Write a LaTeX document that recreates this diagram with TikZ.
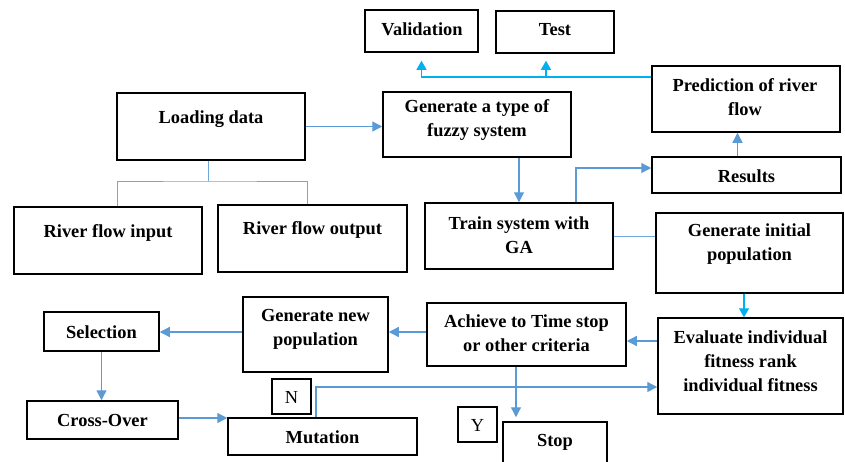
\documentclass[tikz,border=0pt]{standalone}
\usepackage{fontspec}
\setmainfont{Liberation Serif}
\usetikzlibrary{arrows.meta}
\definecolor{ab}{HTML}{5B9BD5}
\definecolor{cy}{HTML}{00B0F0}
\definecolor{lb}{HTML}{6FA8DC}
\begin{document}
\begin{tikzpicture}[x=1pt,y=-1pt,
  box/.style={draw=black,line width=1.5pt,inner sep=0pt},
  txt/.style={font=\fontsize{18.4}{24}\selectfont\bfseries,align=center,inner sep=0pt},
  ntxt/.style={font=\fontsize{18.4}{24}\selectfont,inner sep=0pt},
  arr/.style={draw=ab,line width=1.3pt,-{Triangle[width=10pt,length=10pt]}},
  carr/.style={draw=cy,line width=1.3pt,-{Triangle[width=10pt,length=9pt]}},
  tline/.style={draw=lb,line width=1pt}]
\useasboundingbox (0,0) rectangle (845,461);
% boxes
\node[box,minimum width=113,minimum height=42] (val) at (421.5,31) {};
\node[box,minimum width=118,minimum height=42] (test) at (555,32) {};
\node[box,minimum width=188,minimum height=66] (pred) at (746,99) {};
\node[box,minimum width=188,minimum height=65] (gf) at (477,124.5) {};
\node[box,minimum width=188,minimum height=67] (ld) at (211,126.5) {};
\node[box,minimum width=188,minimum height=67] (rfi) at (108,240.5) {};
\node[box,minimum width=189,minimum height=67] (rfo) at (312.5,238.5) {};
\node[box,minimum width=188,minimum height=66] (tr) at (519,236) {};
\node[box,minimum width=189,minimum height=36] (res) at (746.5,175) {};
\node[box,minimum width=187,minimum height=80] (gi) at (749.5,253) {};
\node[box,minimum width=185,minimum height=96] (ev) at (750.5,366) {};
\node[box,minimum width=199,minimum height=63] (ac) at (526.5,334.5) {};
\node[box,minimum width=104,minimum height=58] (st) at (555,451) {};
\node[box,minimum width=39,minimum height=35] (yb) at (477.5,424.5) {};
\node[box,minimum width=39,minimum height=35] (nb) at (291.5,396.5) {};
\node[box,minimum width=189,minimum height=37] (mu) at (322.5,436.5) {};
\node[box,minimum width=151,minimum height=38] (co) at (102.5,420) {};
\node[box,minimum width=115,minimum height=39] (sel) at (101.5,331.5) {};
\node[box,minimum width=145,minimum height=75] (gn) at (315.5,334.5) {};
% texts
\node[txt] (valt) at (422,29) {Validation};
\node[txt] (testt) at (555,30) {Test};
\node[txt] (predt) at (745,97) {Prediction of river\\flow};
\node[txt] (gft) at (477,120.5) {Generate a type of\\fuzzy system};
\node[txt] (ldt) at (211,119) {Loading data};
\node[txt] (rfit) at (108,233) {River flow input};
\node[txt] (rfot) at (312.5,230) {River flow output};
\node[txt] (trt) at (519,235) {Train system with\\GA};
\node[txt] (rest) at (746.5,176) {Results};
\node[txt] (git) at (749.5,244) {Generate initial\\population};
\node[txt] (evt) at (750.5,361) {Evaluate individual\\fitness rank\\individual fitness};
\node[txt] (act) at (526.5,333.5) {Achieve to Time stop\\or other criteria};
\node[txt] (gnt) at (315.5,329) {Generate new\\population};
\node[txt] (selt) at (101.5,332) {Selection};
\node[txt] (cot) at (102.5,420) {Cross-Over};
\node[txt] (mut) at (322.5,437) {Mutation};
\node[txt] (stt) at (555,442) {Stop};
\node[ntxt] (nt) at (291.5,397) {N};
\node[ntxt] (yt) at (477.5,425) {Y};
% connectors
\coordinate (j) at (208,181);
\draw[tline] (ld.south -| j) -- (j);
\draw[tline] ([xshift=9]rfi.north) |- (j) -| ([xshift=-5.5]rfo.north);
\draw[arr] (ld.east) -- (gf.west |- ld.east);
\draw[arr] (tr.north |- gf.south) -- (tr.north);
\draw[arr] ([xshift=57]tr.north) |- ([yshift=7]res.west);
\draw[arr] ([xshift=-9]res.north) -- ([xshift=-9]res.north |- pred.south);
\coordinate (pv) at ([yshift=22]pred.west);
\draw[carr] (pv) -| ([yshift=-8]val.south);
\draw[carr] ([xshift=-9]test.south |- pv) -- ([xshift=-9,yshift=-7]test.south);
\draw[tline] (tr.east) -- (gi.west |- tr.east);
\draw[carr] ([xshift=-5.5]gi.south) -- ([xshift=-5.5]gi.south |- ev.north);
\draw[arr] ([yshift=25]ev.west) -- (ac.east |- 0,341);
\draw[arr] ([xshift=-10.5]ac.south) -- ([xshift=-10.5,yshift=4]ac.south |- st.north);
\draw[arr] (ac.west |- 0,332) -- (gn.east |- 0,332);
\draw[arr] (gn.west |- 0,332) -- (sel.east |- 0,332);
\draw[arr] (sel.south) -- (sel.south |- co.north);
\draw[arr] ([yshift=2]co.east) -- (mu.west |- 0,418);
\draw[arr] ([xshift=-6.5]mu.north) |- ([yshift=-21]ev.west);
\end{tikzpicture}
\end{document}
